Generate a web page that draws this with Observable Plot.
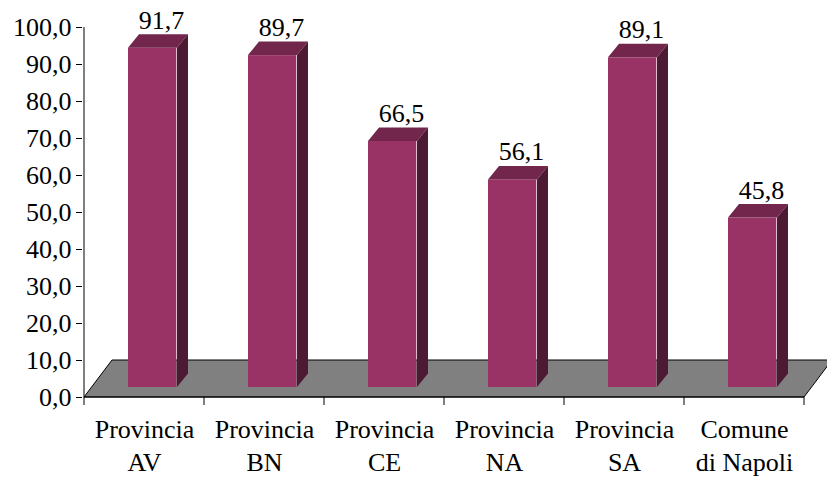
<!DOCTYPE html>
<html>
<head>
<meta charset="utf-8">
<script src="https://cdn.jsdelivr.net/npm/d3@7"></script>
<script src="https://cdn.jsdelivr.net/npm/@observablehq/plot@0.6"></script>
<style>
  html, body { margin: 0; padding: 0; background: #fff; }
  #chart { width: 827px; height: 477px; overflow: hidden; }
  #chart svg text { font-family: "Liberation Serif", "Times New Roman", serif !important; font-variant: normal !important; font-variant-numeric: normal !important; }
</style>
</head>
<body>
<div id="chart"></div>
<script>
// ---- data ----
const categories = ["Provincia\nAV", "Provincia\nBN", "Provincia\nCE", "Provincia\nNA", "Provincia\nSA", "Comune\ndi Napoli"];
const values = [91.7, 89.7, 66.5, 56.1, 89.1, 45.8];
const yTicks = [0, 10, 20, 30, 40, 50, 60, 70, 80, 90, 100];

const data = categories.map((c, i) => ({cat: c, value: values[i]}));

// ---- styling constants ----
const SERIF = "'Liberation Serif', 'Times New Roman', serif";
const FRONT = "#993366", TOP = "#72264c", SIDE = "#4d1a33";
const FLOOR_DX = 28, FLOOR_DY = -37;   // floor depth projection
const BAR_LIFT = -10;                  // bars' front plane above the floor front edge
const BAR_INSET_L = 44, BAR_W = 49;
const DEPTH_DX = 11, DEPTH_DY = -13.5; // bar depth projection
const fmt = d => d.toFixed(1).replace(".", ",");

function bandwidthOf(x) {
  return x.bandwidth ? x.bandwidth() : (x(categories[1]) - x(categories[0]));
}

// floor (gray plane) plus axis lines and boundary ticks
function floorMark(index, scales) {
  const {x, y} = scales;
  const bw = bandwidthOf(x);
  const x0 = x(categories[0]), x1 = x(categories[categories.length - 1]) + bw;
  const y0 = y(0);
  const g = d3.create("svg:g");
  g.append("path")
    .attr("d", `M${x0},${y0}L${x1},${y0}L${x1 + FLOOR_DX},${y0 + FLOOR_DY}L${x0 + FLOOR_DX},${y0 + FLOOR_DY}Z`)
    .attr("fill", "#808080").attr("stroke", "#000").attr("stroke-width", 1);
  g.append("line").attr("x1", x0).attr("x2", x0).attr("y1", y(100)).attr("y2", y0).attr("stroke", "#000");
  g.append("line").attr("x1", x0).attr("x2", x1).attr("y1", y0).attr("y2", y0).attr("stroke", "#000");
  const bounds = categories.map(c => x(c)).concat([x1]);
  for (const b of bounds) {
    g.append("line").attr("x1", b).attr("x2", b).attr("y1", y0).attr("y2", y0 + 8).attr("stroke", "#000");
  }
  return g.node();
}

// top and side faces of the bars
function facesMark(index, scales) {
  const {x, y} = scales;
  const g = d3.create("svg:g");
  for (const d of data) {
    const l = x(d.cat) + BAR_INSET_L, r = l + BAR_W;
    const t = y(d.value) + BAR_LIFT, b = y(0) + BAR_LIFT;
    g.append("path")
      .attr("d", `M${l},${t}L${l + DEPTH_DX},${t + DEPTH_DY}L${r + DEPTH_DX},${t + DEPTH_DY}L${r},${t}Z`)
      .attr("fill", TOP);
    g.append("path")
      .attr("d", `M${r},${t}L${r + DEPTH_DX},${t + DEPTH_DY}L${r + DEPTH_DX},${b + DEPTH_DY}L${r},${b}Z`)
      .attr("fill", SIDE);
  }
  return g.node();
}

const chart = Plot.plot({
  width: 827,
  height: 477,
  marginLeft: 82,
  marginRight: 21,
  marginTop: 27,
  marginBottom: 80,
  style: {fontFamily: SERIF, fontSize: "26px", background: "#fff", color: "#000"},
  x: {type: "band", domain: categories, padding: 0, axis: null, label: null},
  y: {domain: [0, 100], axis: null, label: null},
  marks: [
    floorMark,
    Plot.barY(data, {x: "cat", y: "value", fill: FRONT, insetLeft: BAR_INSET_L, insetRight: 120.667 - BAR_INSET_L - BAR_W, dy: BAR_LIFT}),
    facesMark,
    Plot.text(data, {x: "cat", y: "value", text: d => fmt(d.value), dx: 17, dy: BAR_LIFT + DEPTH_DY - 6, lineAnchor: "bottom", fontSize: 26, fontFamily: SERIF, fontVariant: "normal", fill: "#000"}),
    Plot.axisY({ticks: yTicks, tickSize: 6, tickPadding: 5, tickFormat: fmt, fontSize: 26, fontFamily: SERIF, fontVariant: "normal", stroke: "#000", fill: "#000", label: null}),
    Plot.axisX({tickSize: 0, tickPadding: 17, fontSize: 26, fontFamily: SERIF, lineHeight: 1.27, fill: "#000", label: null})
  ]
});
document.getElementById("chart").appendChild(chart);
</script>
</body>
</html>
